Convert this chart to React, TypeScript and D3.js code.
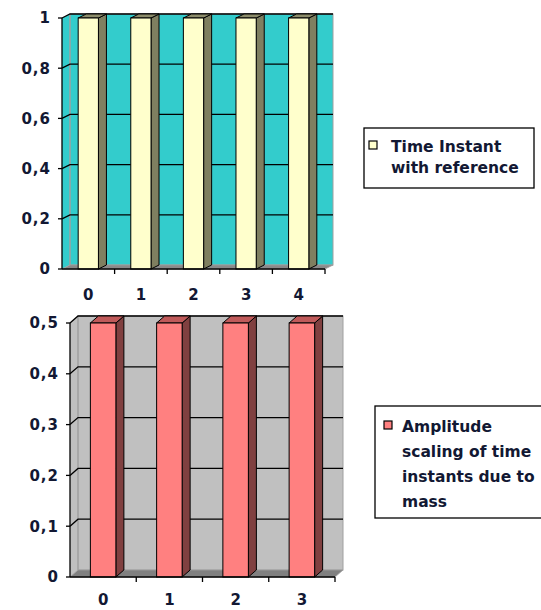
import React, { useEffect, useRef } from "react";
import * as d3 from "d3";

// chart data
const topCategories = ["0", "1", "2", "3", "4"];
const topValues = [1, 1, 1, 1, 1];
const topTicks = [0, 0.2, 0.4, 0.6, 0.8, 1];
const topLegend = ["Time Instant", "with reference"];

const bottomCategories = ["0", "1", "2", "3"];
const bottomValues = [0.5, 0.5, 0.5, 0.5];
const bottomTicks = [0, 0.1, 0.2, 0.3, 0.4, 0.5];
const bottomLegend = ["Amplitude", "scaling of time", "instants due to", "mass"];

interface ChartSpec {
  categories: string[];
  values: number[];
  ticks: number[];
  legend: string[];
  left: number;
  right: number;
  top: number;
  bottom: number;
  dx: number;
  dy: number;
  labelGap: number;
  wall: string;
  floor: string;
  front: string;
  side: string;
  cap: string;
  legendBox: { x: number; y: number; w: number; h: number; lineH: number; first: number; mark: number };
}

const fmt = (v: number) => String(v).replace(".", ",");
const TEXT = "#121833";
const FONT = "'DejaVu Sans', sans-serif";

function drawChart(g: d3.Selection<SVGGElement, unknown, null, undefined>, s: ChartSpec) {
  const x = d3.scaleBand<string>().domain(s.categories).range([s.left, s.right]);
  const y = d3.scaleLinear().domain([0, d3.max(s.ticks)!]).range([s.bottom, s.top]);
  const { dx, dy } = s;
  const L = s.left, R = s.right, y0 = y(0), yT = y(d3.max(s.ticks)!);

  // side wall + back wall
  g.append("polygon")
    .attr("points", [[L, yT], [L + dx, yT + dy], [L + dx, y0 + dy], [L, y0]].join(" "))
    .attr("fill", s.wall);
  g.append("rect")
    .attr("x", L + dx).attr("y", yT + dy)
    .attr("width", R - L).attr("height", y0 - yT)
    .attr("fill", s.wall).attr("stroke", "#a0a0a0").attr("stroke-width", 1);
  g.append("line")
    .attr("x1", L + dx).attr("x2", L + dx).attr("y1", yT + dy).attr("y2", y0 + dy)
    .attr("stroke", "#a0a0a0");
  // floor
  g.append("polygon")
    .attr("points", [[L, y0], [L + dx, y0 + dy], [R + dx, y0 + dy], [R, y0]].join(" "))
    .attr("fill", s.floor).attr("stroke", "#a0a0a0").attr("stroke-width", 0.8);

  // gridlines
  s.ticks.filter((t) => t > 0).forEach((t) => {
    g.append("polyline")
      .attr("points", [[L, y(t)], [L + dx, y(t) + dy], [R + dx, y(t) + dy]].join(" "))
      .attr("fill", "none").attr("stroke", "#000").attr("stroke-width", 1.3);
  });

  // bars
  const bw = x.bandwidth() * 0.385;
  s.values.forEach((v, i) => {
    const cx = x(s.categories[i])! + x.bandwidth() / 2;
    const x0 = cx - bw / 2, x1 = cx + bw / 2, yv = y(v);
    g.append("polygon")
      .attr("points", [[x1, yv], [x1 + dx, yv + dy], [x1 + dx, y0 + dy], [x1, y0]].join(" "))
      .attr("fill", s.side).attr("stroke", "#000").attr("stroke-width", 1);
    g.append("polygon")
      .attr("points", [[x0, yv], [x0 + dx, yv + dy], [x1 + dx, yv + dy], [x1, yv]].join(" "))
      .attr("fill", s.cap).attr("stroke", "#000").attr("stroke-width", 1);
    g.append("rect")
      .attr("x", x0).attr("y", yv).attr("width", bw).attr("height", y0 - yv)
      .attr("fill", s.front).attr("stroke", "#000").attr("stroke-width", 1);
  });

  // axes
  g.append("line").attr("x1", L).attr("x2", L).attr("y1", yT).attr("y2", y0)
    .attr("stroke", "#000").attr("stroke-width", 1.3);
  g.append("line").attr("x1", L).attr("x2", R).attr("y1", y0).attr("y2", y0)
    .attr("stroke", "#000").attr("stroke-width", 1.3);
  s.ticks.forEach((t) => {
    g.append("line").attr("x1", L - 4).attr("x2", L).attr("y1", y(t)).attr("y2", y(t))
      .attr("stroke", "#000").attr("stroke-width", 1.3);
    g.append("text")
      .attr("x", L - 11).attr("y", y(t)).attr("dy", "0.36em")
      .attr("text-anchor", "end")
      .attr("font-family", FONT).attr("font-weight", "bold")
      .attr("font-size", 15).attr("letter-spacing", 1).attr("fill", TEXT)
      .text(fmt(t));
  });
  s.categories.forEach((c) => {
    const bx = x(c)!;
    g.append("line").attr("x1", bx + x.bandwidth()).attr("x2", bx + x.bandwidth())
      .attr("y1", y0).attr("y2", y0 + 5).attr("stroke", "#000").attr("stroke-width", 1.3);
    g.append("text")
      .attr("x", bx + x.bandwidth() / 2).attr("y", y0 + s.labelGap)
      .attr("text-anchor", "middle")
      .attr("font-family", FONT).attr("font-weight", "bold")
      .attr("font-size", 15).attr("fill", TEXT)
      .text(c);
  });

  // legend
  const lb = s.legendBox;
  g.append("rect").attr("x", lb.x).attr("y", lb.y).attr("width", lb.w).attr("height", lb.h)
    .attr("fill", "#fff").attr("stroke", "#000").attr("stroke-width", 1.3);
  g.append("rect").attr("x", lb.x + lb.mark - 4).attr("y", lb.y + lb.first - 11).attr("width", 8).attr("height", 8)
    .attr("fill", s.front).attr("stroke", "#000").attr("stroke-width", 1.2);
  s.legend.forEach((line, i) => {
    g.append("text")
      .attr("x", lb.x + 27).attr("y", lb.y + lb.first + i * lb.lineH)
      .attr("font-family", FONT).attr("font-weight", "bold")
      .attr("font-size", 15.5).attr("fill", TEXT)
      .text(line);
  });
}

const App: React.FC = () => {
  const svgRef = useRef<SVGSVGElement | null>(null);

  useEffect(() => {
    if (!svgRef.current) return;
    const svg = d3.select(svgRef.current);
    svg.selectAll("*").remove();

    drawChart(svg.append("g"), {
      categories: topCategories, values: topValues, ticks: topTicks, legend: topLegend,
      left: 62, right: 325, top: 18, bottom: 269, dx: 8, dy: -4, labelGap: 31,
      wall: "#33cccc", floor: "#8a8a8a", front: "#ffffcc", side: "#7f7f60", cap: "#8c8c6a",
      legendBox: { x: 364, y: 128, w: 170, h: 60, lineH: 21, first: 24, mark: 9 },
    });

    drawChart(svg.append("g"), {
      categories: bottomCategories, values: bottomValues, ticks: bottomTicks, legend: bottomLegend,
      left: 70, right: 335, top: 323, bottom: 577, dx: 8, dy: -7, labelGap: 28,
      wall: "#c0c0c0", floor: "#808080", front: "#ff8080", side: "#804040", cap: "#c05a5a",
      legendBox: { x: 375, y: 406, w: 170, h: 112, lineH: 25, first: 26, mark: 13 },
    });
  }, []);

  return (
    <svg ref={svgRef} width={541} height={610}
      style={{ position: "absolute", left: 0, top: 0, background: "#fff" }} />
  );
};

export default App;
